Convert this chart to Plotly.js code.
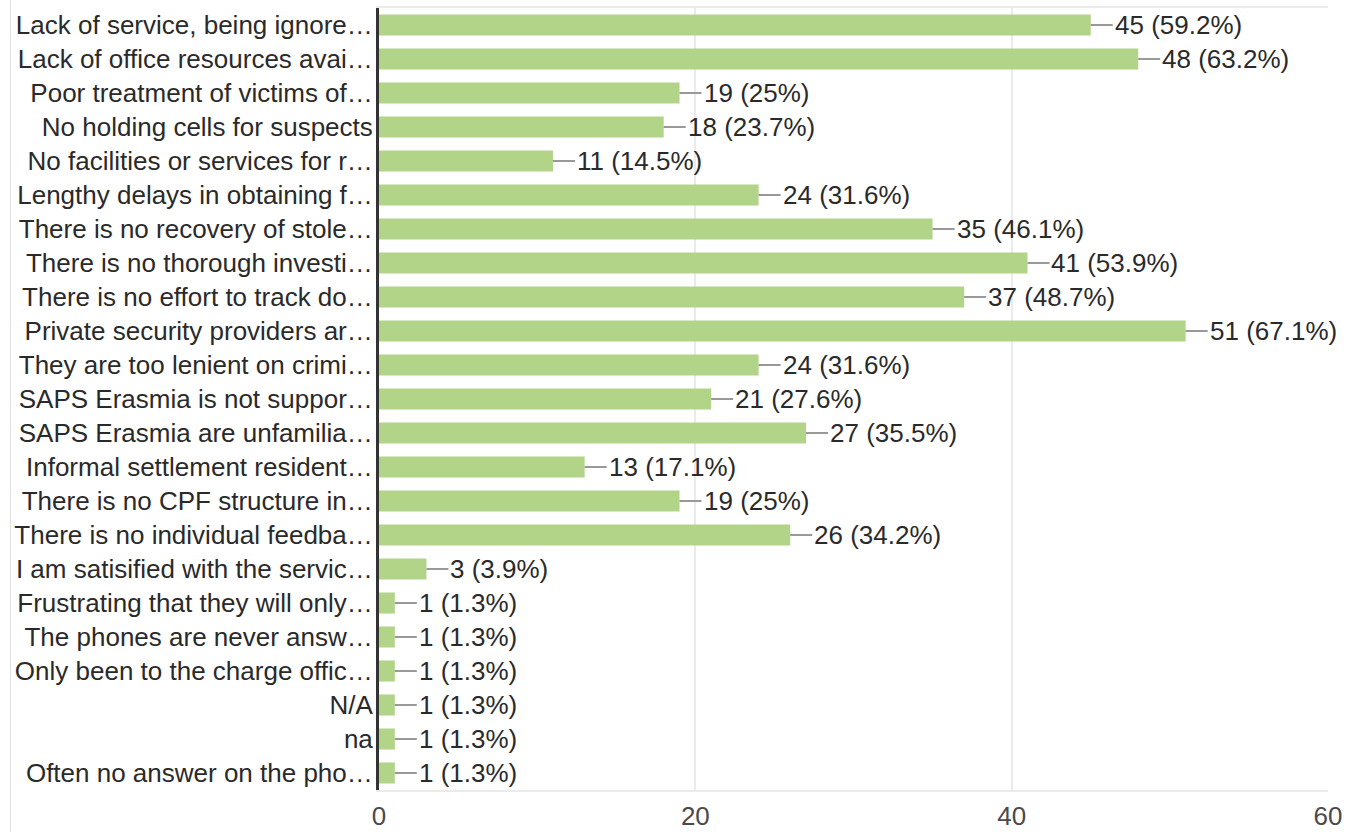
<!DOCTYPE html>
<html>
<head>
<meta charset="utf-8">
<script src="https://cdn.plot.ly/plotly-3.0.1.min.js"></script>
<style>
html,body{margin:0;padding:0;background:#fff;}
#chart{width:1347px;height:832px;}
</style>
</head>
<body>
<div id="chart"></div>
<script>
const categories = [
  "Lack of service, being ignore…",
  "Lack of office resources avai…",
  "Poor treatment of victims of…",
  "No holding cells for suspects",
  "No facilities or services for r…",
  "Lengthy delays in obtaining f…",
  "There is no recovery of stole…",
  "There is no thorough investi…",
  "There is no effort to track do…",
  "Private security providers ar…",
  "They are too lenient on crimi…",
  "SAPS Erasmia is not suppor…",
  "SAPS Erasmia are unfamilia…",
  "Informal settlement resident…",
  "There is no CPF structure in…",
  "There is no individual feedba…",
  "I am satisified with the servic…",
  "Frustrating that they will only…",
  "The phones are never answ…",
  "Only been to the charge offic…",
  "N/A",
  "na",
  "Often no answer on the pho…"
];
const counts = [45,48,19,18,11,24,35,41,37,51,24,21,27,13,19,26,3,1,1,1,1,1,1];
const percents = ["59.2%","63.2%","25%","23.7%","14.5%","31.6%","46.1%","53.9%","48.7%","67.1%","31.6%","27.6%","35.5%","17.1%","25%","34.2%","3.9%","1.3%","1.3%","1.3%","1.3%","1.3%","1.3%"];
const xTicks = [0,20,40,60];

const W = 1347, H = 832;
const margin = {l:379, r:19, t:8, b:42};
const plotW = W - margin.l - margin.r;
const plotH = H - margin.t - margin.b;
const FONT = 'Liberation Sans, Arial, sans-serif';

const trace = {
  type: 'bar',
  orientation: 'h',
  y: categories,
  x: counts,
  marker: {color: '#b2d489'},
  hoverinfo: 'none'
};

const annotations = counts.map((v, i) => ({
  x: v, y: categories[i], xref: 'x', yref: 'y',
  text: v + ' (' + percents[i] + ')',
  showarrow: true, arrowhead: 0, arrowwidth: 2, arrowcolor: '#999999',
  ax: 22, ay: 0, standoff: 0, startstandoff: 0,
  xanchor: 'left', yanchor: 'middle',
  font: {family: FONT, size: 26, color: '#2a2a2a'}
}));

const borderX = (10.5 - margin.l) / plotW;

const layout = {
  width: W, height: H,
  margin: margin,
  paper_bgcolor: '#ffffff',
  plot_bgcolor: '#ffffff',
  showlegend: false,
  bargap: 0.38,
  font: {family: FONT, size: 26, color: '#2a2a2a'},
  xaxis: {
    range: [0, 60],
    tickvals: xTicks,
    ticktext: xTicks.map(String),
    showgrid: true, gridcolor: '#ebebeb', gridwidth: 2,
    zeroline: false,
    showline: true, mirror: true, linecolor: '#ebebeb', linewidth: 2,
    ticks: '',
    ticklabelstandoff: 2,
    tickfont: {family: FONT, size: 26, color: '#4a4a4a'},
    fixedrange: true
  },
  yaxis: {
    autorange: 'reversed',
    type: 'category',
    showgrid: false,
    zeroline: false,
    showline: true, linecolor: '#333333', linewidth: 3,
    ticks: '',
    ticklabelstandoff: -2,
    tickfont: {family: FONT, size: 26, color: '#2a2a2a'},
    fixedrange: true
  },
  annotations: annotations,
  shapes: [{
    type: 'line', xref: 'paper', yref: 'paper',
    x0: borderX, x1: borderX,
    y0: -(margin.b) / plotH, y1: 1 + margin.t / plotH,
    line: {color: '#e0e0e0', width: 1}
  }]
};

Plotly.newPlot('chart', [trace], layout, {displayModeBar: false, staticPlot: true});
</script>
</body>
</html>
